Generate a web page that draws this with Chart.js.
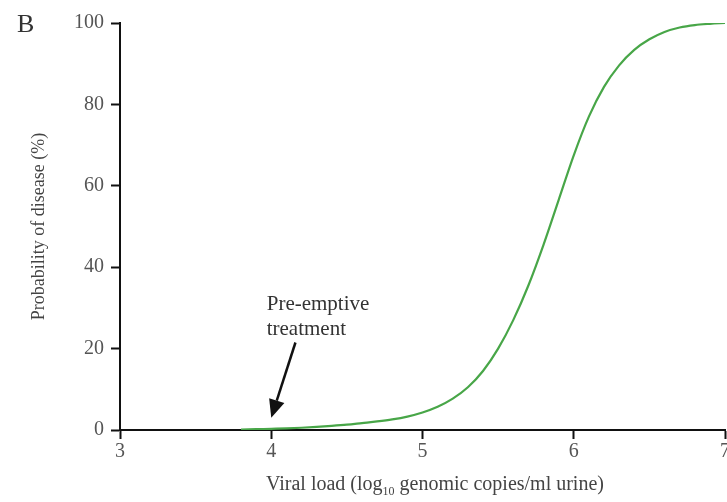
<!DOCTYPE html>
<html>
<head>
<meta charset="utf-8">
<script src="https://cdn.jsdelivr.net/npm/chart.js@4"></script>
<style>
  html, body { margin: 0; padding: 0; background: #fff; overflow: hidden; }
  #wrap { width: 731px; height: 502px; }
</style>
</head>
<body>
<div id="wrap"><canvas id="chart"></canvas></div>
<script>
// viral load (log10) and probability of disease (%)
const viralLoad = [3.8, 3.9, 4.0, 4.1, 4.2, 4.3, 4.4, 4.5, 4.6, 4.7, 4.8, 4.9, 5.0, 5.1, 5.2, 5.3, 5.4, 5.5,
                   5.6, 5.7, 5.8, 5.9, 6.0, 6.1, 6.2, 6.3, 6.4, 6.5, 6.6, 6.7, 6.8, 6.9, 7.0];
const probability = [0.1, 0.2, 0.3, 0.4, 0.55, 0.75, 1.0, 1.3, 1.7, 2.1, 2.6, 3.3, 4.3, 5.7, 7.7, 10.5, 14.5, 20,
                     27, 35.5, 45.5, 56.5, 67.5, 77, 84.3, 89.6, 93.4, 96, 97.8, 98.9, 99.5, 99.8, 100];
const xTicks = [3, 4, 5, 6, 7];
const yTicks = [0, 20, 40, 60, 80, 100];

// annotation anchors in data units
const arrowTail = { x: 4.16, y: 21.5 };
const arrowTip = { x: 4.0, y: 3 };
const noteLines = ['Pre-emptive', 'treatment'];
const notePos = { x: 3.97, y: 29.5 };

const serif = '"Liberation Serif", "DejaVu Serif", serif';

const extras = {
  id: 'extras',
  afterDraw(chart) {
    const ctx = chart.ctx;
    const xs = chart.scales.x, ys = chart.scales.y;
    ctx.save();
    // panel letter
    ctx.fillStyle = '#333';
    ctx.font = '26px ' + serif;
    ctx.textBaseline = 'alphabetic';
    ctx.textAlign = 'left';
    ctx.fillText('B', 17, 32);

    // x axis title with subscript
    const parts = [['Viral load (log', 20, 0], ['10', 12, 5], [' genomic copies/ml urine)', 20, 0]];
    let total = 0;
    parts.forEach(p => { ctx.font = p[1] + 'px ' + serif; total += ctx.measureText(p[0]).width; });
    let cx = 435 - total / 2;
    ctx.fillStyle = '#444';
    parts.forEach(p => {
      ctx.font = p[1] + 'px ' + serif;
      ctx.fillText(p[0], cx, 490 + p[2]);
      cx += ctx.measureText(p[0]).width;
    });

    // note text
    ctx.font = '21px ' + serif;
    ctx.fillStyle = '#333';
    const nx = xs.getPixelForValue(notePos.x);
    const ny = ys.getPixelForValue(notePos.y);
    noteLines.forEach((t, i) => ctx.fillText(t, nx, ny + i * 25));

    // arrow
    const x1 = xs.getPixelForValue(arrowTail.x), y1 = ys.getPixelForValue(arrowTail.y);
    const x2 = xs.getPixelForValue(arrowTip.x), y2 = ys.getPixelForValue(arrowTip.y);
    const ang = Math.atan2(y2 - y1, x2 - x1);
    const head = 18, half = 8;
    const bx = x2 - head * Math.cos(ang), by = y2 - head * Math.sin(ang);
    ctx.strokeStyle = '#111';
    ctx.lineWidth = 2.5;
    ctx.beginPath();
    ctx.moveTo(x1, y1);
    ctx.lineTo(bx, by);
    ctx.stroke();
    ctx.fillStyle = '#111';
    ctx.beginPath();
    ctx.moveTo(x2, y2);
    ctx.lineTo(bx + half * Math.sin(ang), by - half * Math.cos(ang));
    ctx.lineTo(bx - half * Math.sin(ang), by + half * Math.cos(ang));
    ctx.closePath();
    ctx.fill();
    ctx.restore();
  }
};

new Chart(document.getElementById('chart'), {
  type: 'line',
  data: {
    datasets: [{
      data: viralLoad.map((v, i) => ({ x: v, y: probability[i] })),
      borderColor: '#48a648',
      borderWidth: 2.2,
      pointRadius: 0,
      cubicInterpolationMode: 'monotone',
      fill: false
    }]
  },
  options: {
    responsive: true,
    maintainAspectRatio: false,
    animation: false,
    layout: { padding: { left: 22, top: 23, right: 0, bottom: 0 } },
    plugins: { legend: { display: false }, tooltip: { enabled: false } },
    scales: {
      x: {
        type: 'linear',
        min: 3, max: 7,
        afterBuildTicks: s => { s.ticks = xTicks.map(v => ({ value: v })); },
        afterFit: s => { s.height = 72; },
        border: { color: '#111', width: 2 },
        grid: { drawOnChartArea: false, tickLength: 9, tickColor: '#111', tickWidth: 2 },
        ticks: { color: '#555', padding: 1, font: { family: serif, size: 20 } }
      },
      y: {
        min: 0, max: 100,
        afterBuildTicks: s => { s.ticks = yTicks.map(v => ({ value: v })); },
        afterFit: s => { s.width = 98; },
        border: { color: '#111', width: 2 },
        grid: { drawOnChartArea: false, tickLength: 9, tickColor: '#111', tickWidth: 2 },
        ticks: { color: '#555', padding: 7, font: { family: serif, size: 20 } },
        title: {
          display: true,
          text: 'Probability of disease (%)',
          color: '#444',
          font: { family: serif, size: 18 },
          padding: { top: 6, bottom: 0 }
        }
      }
    }
  },
  plugins: [extras]
});
</script>
</body>
</html>
